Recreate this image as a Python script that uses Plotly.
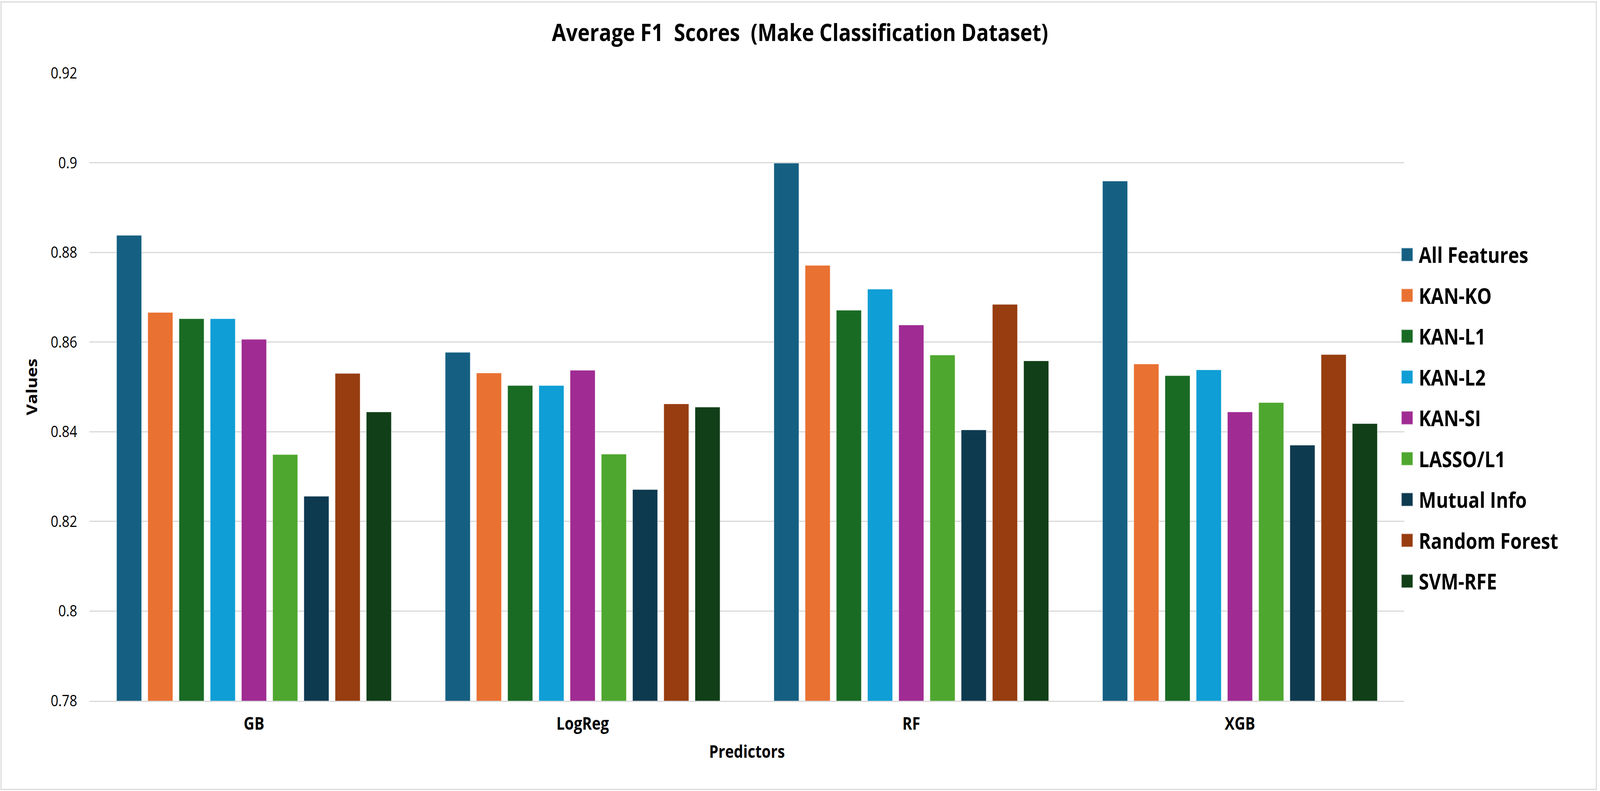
import plotly.graph_objects as go

# ---------------- data ----------------
predictors = ["GB", "LogReg", "RF", "XGB"]

methods = ["All Features", "KAN-KO", "KAN-L1", "KAN-L2", "KAN-SI",
           "LASSO/L1", "Mutual Info", "Random Forest", "SVM-RFE"]

all_features  = [0.8838, 0.8577, 0.8999, 0.8959]
kan_ko        = [0.8666, 0.8531, 0.8771, 0.8551]
kan_l1        = [0.8652, 0.8503, 0.8671, 0.8525]
kan_l2        = [0.8652, 0.8503, 0.8718, 0.8538]
kan_si        = [0.8606, 0.8537, 0.8638, 0.8444]
lasso_l1      = [0.8349, 0.8350, 0.8571, 0.8465]
mutual_info   = [0.8256, 0.8271, 0.8404, 0.8370]
random_forest = [0.8530, 0.8462, 0.8684, 0.8572]
svm_rfe       = [0.8444, 0.8455, 0.8558, 0.8418]

series_values = [all_features, kan_ko, kan_l1, kan_l2, kan_si,
                 lasso_l1, mutual_info, random_forest, svm_rfe]

colors = ["#156082", "#E97132", "#196B24", "#0F9ED5", "#A02B93",
          "#4EA72E", "#0E3A50", "#973D10", "#113F18"]

y_tick_vals = [0.78, 0.80, 0.82, 0.84, 0.86, 0.88, 0.90, 0.92]
y_tick_text = ["0.78", "0.8", "0.82", "0.84", "0.86", "0.88", "0.9", "0.92"]

title_text = "Average F1\u00a0 Scores\u00a0 (Make Classification Dataset)"

# ---------------- figure ----------------
W, H = 4766, 2025
ML, MR, MT, MB = 267, 583, 187, 231
PW = W - ML - MR
PH = H - MT - MB

FONT = "Open Sans"

fig = go.Figure()
for name, vals, col in zip(methods, series_values, colors):
    fig.add_trace(go.Bar(
        name=name, x=predictors, y=vals,
        marker=dict(color=col, line=dict(color="rgba(255,255,255,0.7)", width=1)),
        legendgroup=name,
    ))

fig.update_layout(
    width=W, height=H, autosize=False,
    margin=dict(l=ML, r=MR, t=MT, b=MB, autoexpand=False),
    paper_bgcolor="white", plot_bgcolor="white",
    barmode="group", bargap=0.145, bargroupgap=0.2,
    font=dict(family=FONT, color="black"),
    title=dict(text="<b>" + title_text + "</b>", x=0.5, xref="container",
               xanchor="center", y=1 - 84 / H, yref="container", yanchor="middle",
               font=dict(family=FONT, size=61, color="black")),
    showlegend=True,
    legend=dict(
        x=(4157 - ML) / PW, xanchor="left", xref="paper",
        y=(H - MB - 1070) / PH, yanchor="middle", yref="paper",
        font=dict(family=FONT, size=55, color="black", weight="bold"),
        itemwidth=59, traceorder="grouped", tracegroupgap=30,
        bgcolor="rgba(0,0,0,0)", borderwidth=0,
        itemclick=False, itemdoubleclick=False,
    ),
    xaxis=dict(
        title=dict(text="<b>Predictors</b>", font=dict(family=FONT, size=44), standoff=30),
        tickfont=dict(family=FONT, size=44),
        tickvals=predictors, ticktext=["<b>" + p + "</b>" for p in predictors],
        showgrid=False, ticks="", ticklabelstandoff=18,
        showline=True, linecolor="#D9D9D9", linewidth=2.5,
        zeroline=False,
    ),
    yaxis=dict(
        title=dict(text="<b>Values</b>", font=dict(family=FONT, size=44), standoff=25),
        range=[0.78, 0.92], tickvals=y_tick_vals, ticktext=y_tick_text,
        tickfont=dict(family=FONT, size=40),
        showgrid=True, gridcolor="#D9D9D9", gridwidth=2.5,
        ticks="", ticklabelstandoff=36, zeroline=False, showline=False,
    ),
    shapes=[dict(type="rect", xref="paper", yref="paper",
                 x0=(3 - ML) / PW, x1=(4755 - ML) / PW,
                 y0=(H - MB - 2021) / PH, y1=(H - MB - 5) / PH,
                 line=dict(color="#D9D9D9", width=3), fillcolor="rgba(0,0,0,0)",
                 layer="below")],
)

post = """
(function(){
  var st = document.createElement('style');
  st.textContent = 'html,body{margin:0 !important;padding:0 !important;overflow:hidden !important;background:#fff;}' +
                   ' g.legendpoints path{transform:translate(34.5px,0px) scale(2.917);}';
  document.head.appendChild(st);
  var gd = document.getElementById('{plot_id}');
  function fit(){
    var vw = window.innerWidth, vh = window.innerHeight;
    if(!vw || !vh) return;
    var sx = vw / 4766, sy = vh / 2025;
    var wrap = gd.parentElement;
    wrap.style.width = vw + 'px';
    wrap.style.height = vh + 'px';
    wrap.style.overflow = 'hidden';
    gd.style.transformOrigin = '0 0';
    gd.style.transform = 'scale(' + sx + ',' + sy + ')';
  }
  fit();
  window.addEventListener('resize', fit);
  window.addEventListener('load', fit);
})();
"""

fig.write_html("out.html", post_script=post, config={"displayModeBar": False})
